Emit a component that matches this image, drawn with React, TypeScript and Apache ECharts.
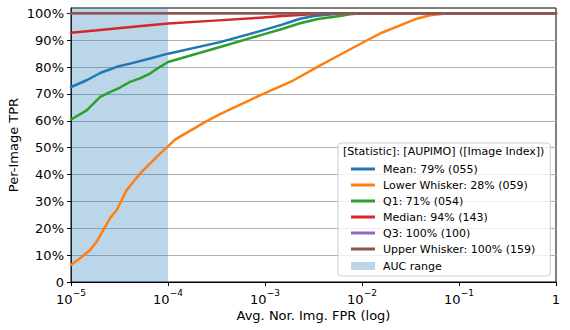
import React, { useEffect, useRef } from "react";
import * as echarts from "echarts";

// FPR (x) and TPR % (y)
const meanFpr = [1e-5, 1.45e-5, 2e-5, 2.96e-5, 4.06e-5, 6.52e-5, 1e-4, 3.44e-4, 8.87e-4, 1.5e-3, 2.3e-3, 3.2e-3, 4.68e-3, 6.68e-3, 1];
const meanTpr = [72.6, 75.1, 77.8, 80.1, 81.3, 83.2, 85.0, 89.3, 93.4, 95.8, 98, 99.0, 99.6, 100, 100];

const lowerFpr = [1e-5, 1.24e-5, 1.57e-5, 1.84e-5, 2.15e-5, 2.52e-5, 2.96e-5, 3.33e-5, 3.75e-5, 4.39e-5, 5.36e-5, 6.52e-5, 8.28e-5, 1e-4, 1.18e-4, 2.4e-4, 3.44e-4, 7e-4, 8.87e-4, 1.95e-3, 3.44e-3, 5.93e-3, 1.13e-2, 1.6e-2, 2.47e-2, 3.5e-2, 5.02e-2, 7e-2, 9.1e-2, 1];
const lowerTpr = [6.3, 8.8, 11.9, 15.0, 19.3, 23.7, 26.8, 30.5, 34.2, 37.3, 41.0, 44.1, 47.8, 50.5, 53, 59.5, 62.5, 67.7, 69.5, 75, 80, 84.6, 90, 92.8, 95.5, 97.8, 99.3, 99.9, 100, 100];

const q1Fpr = [1e-5, 1.45e-5, 2e-5, 2.52e-5, 3.2e-5, 4.06e-5, 5.14e-5, 6.52e-5, 8.28e-5, 1e-4, 3.44e-4, 8.87e-4, 1.5e-3, 2.3e-3, 3.5e-3, 5.93e-3, 7.5e-3, 1e-2, 1];
const q1Tpr = [60.5, 63.9, 68.9, 70.7, 72.4, 74.5, 75.8, 77.6, 80.1, 81.9, 87.5, 91.8, 94.2, 96.3, 97.9, 99, 99.7, 100, 100];

const medianFpr = [1e-5, 2e-5, 5e-5, 1e-4, 3e-4, 8.87e-4, 1.5e-3, 2.3e-3, 3.2e-3, 4.68e-3, 1];
const medianTpr = [92.8, 93.8, 95.2, 96.2, 97.3, 98.4, 99, 99.4, 99.8, 100, 100];

const q3Fpr = [1e-5, 1];
const q3Tpr = [100, 100];

const upperFpr = [1e-5, 1];
const upperTpr = [100, 100];

const seriesNames = [
  "Mean: 79% (055)",
  "Lower Whisker: 28% (059)",
  "Q1: 71% (054)",
  "Median: 94% (143)",
  "Q3: 100% (100)",
  "Upper Whisker: 100% (159)",
];
const seriesColors = ["#1f77b4", "#ff7f0e", "#2ca02c", "#d62728", "#9467bd", "#8c564b"];
const aucName = "AUC range";
const aucRange = [1e-5, 1e-4];
const yTicks = [0, 10, 20, 30, 40, 50, 60, 70, 80, 90, 100];

const FONT = "DejaVu Sans";

export default function App() {
  const ref = useRef<HTMLDivElement>(null);
  useEffect(() => {
    if (!ref.current) return;
    const chart = echarts.init(ref.current, undefined, { renderer: "svg" });
    const xs = [meanFpr, lowerFpr, q1Fpr, medianFpr, q3Fpr, upperFpr];
    const ys = [meanTpr, lowerTpr, q1Tpr, medianTpr, q3Tpr, upperTpr];
    const lineSeries: any[] = seriesNames.map((name, i) => ({
      name,
      type: "line",
      symbol: "none",
      data: xs[i].map((x, j) => [x, ys[i][j]]),
      lineStyle: { color: seriesColors[i], width: 2.5, join: "round", cap: "round" },
      itemStyle: { color: seriesColors[i] },
      z: 3 + i,
      ...(i === 0
        ? {
            markArea: {
              silent: true,
              itemStyle: { color: "rgba(31,119,180,0.3)" },
              data: [[{ xAxis: aucRange[0] }, { xAxis: aucRange[1] }]],
            },
          }
        : {}),
    }));
    lineSeries.push({
      name: aucName,
      type: "line",
      symbol: "none",
      data: [],
      itemStyle: { color: "#bcd6e9" },
      lineStyle: { color: "#bcd6e9" },
    });
    const legendText = { fontSize: 11, color: "#000", fontFamily: FONT, lineHeight: 14, padding: [0, 0, 0, 3] };
    chart.setOption({
      animation: false,
      textStyle: { fontFamily: FONT, color: "#000" },
      grid: {
        left: 71,
        right: 14,
        top: 8,
        bottom: 48,
        outerBoundsMode: "none",
        containLabel: false,
        show: true,
        borderColor: "#000",
        borderWidth: 1,
        backgroundColor: "transparent",
      },
      xAxis: {
        type: "log",
        logBase: 10,
        min: 1e-5,
        max: 1,
        name: "Avg. Nor. Img. FPR (log)",
        nameLocation: "middle",
        nameGap: 27,
        nameMoveOverlap: false,
        nameTextStyle: { fontSize: 13, color: "#000", fontFamily: FONT },
        axisLine: { show: true, lineStyle: { color: "#000", width: 1 } },
        axisTick: { show: true, inside: false, length: 4, lineStyle: { color: "#000", width: 1 } },
        splitLine: { show: false },
        minorTick: { show: false },
        axisLabel: {
          margin: 6,
          color: "#000",
          fontFamily: FONT,
          formatter: (v: number) => {
            const e = Math.round(Math.log10(v));
            if (e === 0) return "{b|1}";
            return "{b|10}{s|\u2212" + Math.abs(e) + "}";
          },
          rich: {
            b: { fontSize: 13, fontFamily: FONT, color: "#000", lineHeight: 18, verticalAlign: "bottom" },
            s: { fontSize: 9, fontFamily: FONT, color: "#000", lineHeight: 18, verticalAlign: "top" },
          },
        },
      },
      yAxis: {
        type: "value",
        min: 0,
        max: 102,
        interval: 10,
        name: "Per-Image TPR",
        nameLocation: "middle",
        nameGap: 51,
        nameMoveOverlap: false,
        nameTextStyle: { fontSize: 13, color: "#000", fontFamily: FONT },
        axisLine: { show: true, lineStyle: { color: "#000", width: 1 } },
        axisTick: { show: true, inside: false, length: 4, customValues: yTicks, lineStyle: { color: "#000", width: 1 } },
        splitLine: { show: true, lineStyle: { color: "#b0b0b0", width: 1 } },
        axisLabel: {
          margin: 7,
          fontSize: 13,
          color: "#000",
          fontFamily: FONT,
          customValues: yTicks,
          formatter: (v: number) => (v === 0 ? "0" : v > 100 ? "" : v + "%"),
        },
      },
      legend: [
        {
          orient: "vertical",
          left: 338,
          top: 143,
          padding: [19, 15, 20, 13],
          itemGap: 2,
          itemWidth: 24,
          itemHeight: 3,
          icon: "rect",
          backgroundColor: "rgba(255,255,255,0.8)",
          borderColor: "#cccccc",
          borderWidth: 1,
          borderRadius: 3,
          textStyle: legendText,
          data: seriesNames,
        },
        {
          orient: "vertical",
          left: 338,
          top: 259,
          padding: [0, 0, 0, 13],
          itemWidth: 24,
          itemHeight: 8,
          icon: "rect",
          textStyle: legendText,
          data: [{ name: aucName, itemStyle: { color: "#bcd6e9" } }],
        },
      ],
      graphic: {
        elements: [
          {
            type: "text",
            left: 343,
            top: 146,
            z: 100,
            style: {
              text: "[Statistic]: [AUPIMO] ([Image Index])",
              fontSize: 11,
              fontFamily: FONT,
              fill: "#000",
            },
          },
        ],
      },
      series: lineSeries,
    });
    return () => chart.dispose();
  }, []);
  return <div ref={ref} style={{ width: 570, height: 330, position: "absolute", left: 0, top: 0 }} />;
}
